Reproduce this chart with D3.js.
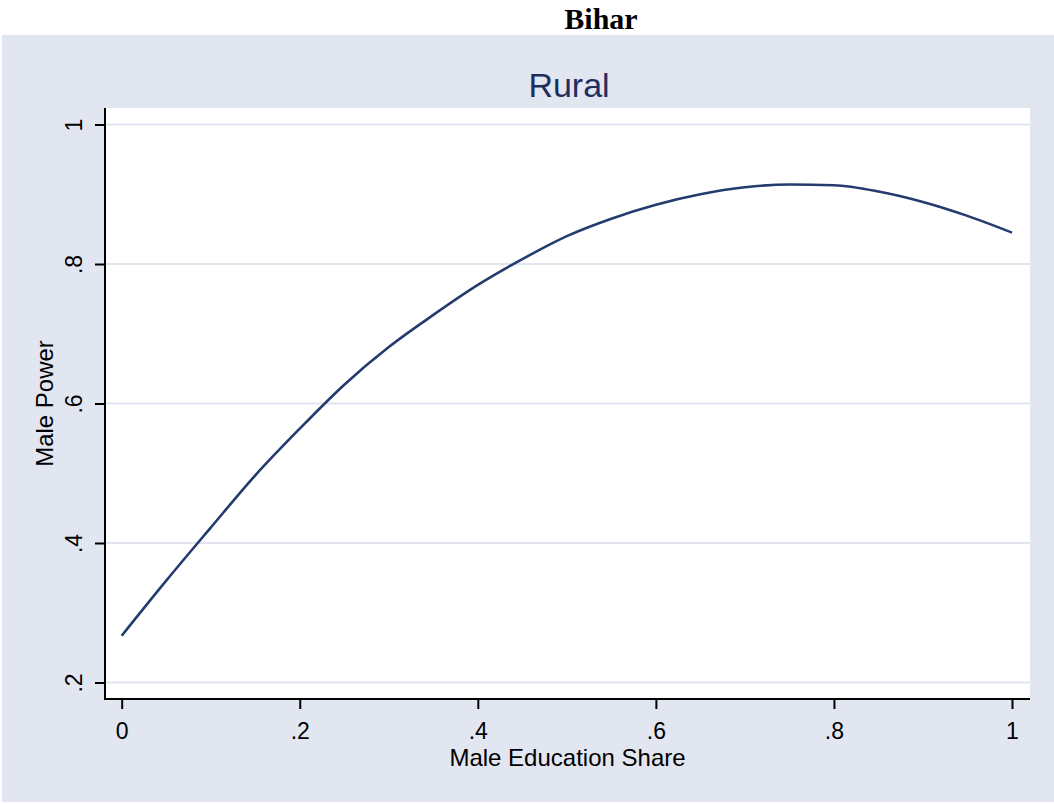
<!DOCTYPE html>
<html>
<head>
  <meta charset="utf-8">
  <script src="https://d3js.org/d3.v7.min.js"></script>
  <style>
    body { margin: 0; background: #fff; }
    .tick text { font-family: "Liberation Sans", Arial, sans-serif; }
  </style>
</head>
<body>
  <svg id="chart" width="1054" height="804"></svg>
  <script>
    // Values
    const share = [0, 0.05, 0.10, 0.15, 0.20, 0.25, 0.30, 0.35, 0.40, 0.45, 0.50,
                   0.55, 0.60, 0.65, 0.70, 0.75, 0.80, 0.85, 0.90, 0.95, 1.00];
    const power = [0.267, 0.346, 0.422, 0.497, 0.564, 0.627, 0.681, 0.727, 0.770, 0.807, 0.840,
                   0.865, 0.885, 0.900, 0.910, 0.914, 0.913, 0.904, 0.889, 0.869, 0.845];
    const xTicks = [0, 0.2, 0.4, 0.6, 0.8, 1];
    const xTickLabels = ["0", ".2", ".4", ".6", ".8", "1"];
    const yTicks = [0.2, 0.4, 0.6, 0.8, 1];
    const yTickLabels = [".2", ".4", ".6", ".8", "1"];

    const svg = d3.select("#chart");
    const sans = "'Liberation Sans', Arial, sans-serif";
    const bgColor = "#e2e6f0";
    const lineColor = "#243b6e";

    // plot region (white box)
    const plot = { left: 105, right: 1030, top: 108, bottom: 699 };

    // outer panel
    svg.append("rect")
      .attr("x", 2).attr("y", 35)
      .attr("width", 1052).attr("height", 767)
      .attr("fill", bgColor);

    svg.append("rect")
      .attr("x", plot.left).attr("y", plot.top)
      .attr("width", plot.right - plot.left).attr("height", plot.bottom - plot.top)
      .attr("fill", "#fff");

    const x = d3.scaleLinear().domain([0, 1]).range([121.7, 1012]);
    const y = d3.scaleLinear().domain([0.2, 1]).range([682.5, 124.5]);

    // grid lines
    svg.append("g").selectAll("line").data(yTicks)
      .join("line")
      .attr("x1", plot.left).attr("x2", plot.right)
      .attr("y1", d => y(d)).attr("y2", d => y(d))
      .attr("stroke", "#e0e5ef").attr("stroke-width", 2);

    // curve
    const data = share.map((s, i) => ({ s: s, p: power[i] }));
    const line = d3.line()
      .x(d => x(d.s))
      .y(d => y(d.p))
      .curve(d3.curveMonotoneX);

    svg.append("path").datum(data)
      .attr("d", line)
      .attr("fill", "none")
      .attr("stroke", lineColor)
      .attr("stroke-width", 2.6);

    // x axis
    const xAxis = svg.append("g")
      .attr("transform", "translate(0," + plot.bottom + ")")
      .call(d3.axisBottom(x).tickValues(xTicks)
        .tickFormat((d, i) => xTickLabels[i]).tickSize(10).tickSizeOuter(0));
    xAxis.select(".domain").remove();
    xAxis.append("line")
      .attr("x1", plot.left - 1).attr("x2", plot.right)
      .attr("stroke", "#000").attr("stroke-width", 2);
    xAxis.selectAll(".tick line").attr("stroke", "#000").attr("stroke-width", 2);
    xAxis.selectAll(".tick text")
      .attr("y", 40).attr("dy", null)
      .attr("fill", "#000").attr("font-size", 23);

    // y axis
    const yAxis = svg.append("g")
      .attr("transform", "translate(" + plot.left + ",0)")
      .call(d3.axisLeft(y).tickValues(yTicks)
        .tickFormat((d, i) => yTickLabels[i]).tickSize(10).tickSizeOuter(0));
    yAxis.select(".domain").remove();
    yAxis.append("line")
      .attr("y1", plot.top).attr("y2", plot.bottom + 1)
      .attr("stroke", "#000").attr("stroke-width", 2);
    yAxis.selectAll(".tick line").attr("stroke", "#000").attr("stroke-width", 2);
    yAxis.selectAll(".tick text")
      .attr("x", null).attr("dy", null)
      .attr("transform", "translate(-23,0) rotate(-90)")
      .attr("text-anchor", "middle")
      .attr("fill", "#000").attr("font-size", 23);

    // titles
    svg.append("text")
      .attr("x", 601).attr("y", 29)
      .attr("text-anchor", "middle")
      .attr("font-family", "'Liberation Serif', 'Times New Roman', serif")
      .attr("font-weight", "bold")
      .attr("font-size", 30)
      .text("Bihar");

    svg.append("text")
      .attr("x", 569).attr("y", 97)
      .attr("text-anchor", "middle")
      .attr("font-family", sans)
      .attr("font-size", 34)
      .attr("fill", "#1e2f5e")
      .text("Rural");

    svg.append("text")
      .attr("x", (plot.left + plot.right) / 2).attr("y", 766)
      .attr("text-anchor", "middle")
      .attr("font-family", sans)
      .attr("font-size", 24)
      .text("Male Education Share");

    svg.append("text")
      .attr("transform", "translate(53," + (plot.top + plot.bottom) / 2 + ") rotate(-90)")
      .attr("text-anchor", "middle")
      .attr("font-family", sans)
      .attr("font-size", 24)
      .text("Male Power");
  </script>
</body>
</html>
